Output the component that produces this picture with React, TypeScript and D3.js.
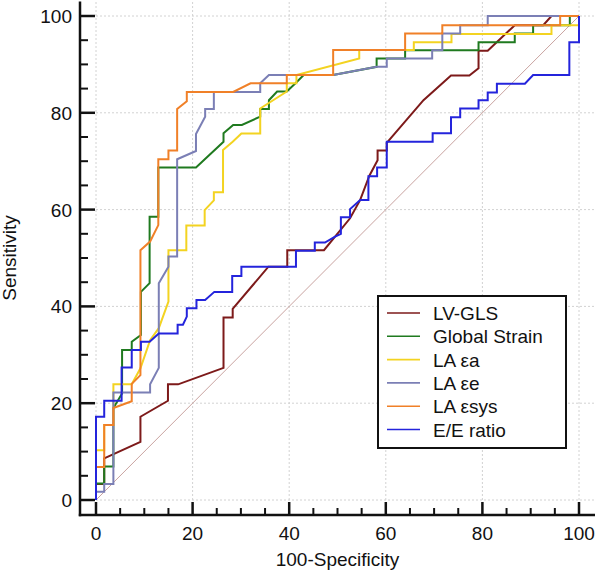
import React from "react";
import * as d3 from "d3";

// ---- Data ----
const seriesNames = ["LV-GLS", "Global Strain", "LA εa", "LA εe", "LA εsys", "E/E ratio"];

const lvGls: [number, number][] = [
  [0, 0], [0, 3.3], [1.7, 3.3], [1.7, 8.6], [9.2, 12.0], [9.2, 17.2], [14.9, 20.5], [14.9, 23.9],
  [17, 23.9], [26.4, 27.3], [26.4, 37.7], [28.3, 37.7], [28.3, 39.5], [35.7, 48.2], [39.6, 48.2],
  [39.6, 51.6], [47.2, 51.6], [52.6, 58.2], [54.7, 62], [56.6, 67], [58.3, 70.2], [58.3, 72.2],
  [60.2, 72.2], [60.2, 73.8], [67.8, 82.6], [73.5, 87.7], [77.3, 87.7], [79.2, 89.2], [79.2, 92.8],
  [81.1, 92.8], [86.7, 98.1], [92.6, 98.1], [94.3, 100], [100, 100],
];

const globalStrain: [number, number][] = [
  [0, 0], [0, 3.4], [1.7, 3.4], [1.7, 6.9], [3.6, 6.9], [3.6, 19], [5.4, 22], [5.4, 31], [7.4, 31],
  [7.4, 32.7], [9.3, 34.1], [9.3, 43], [11.1, 44.8], [11.1, 58.5], [12.9, 58.5], [12.9, 68.7],
  [20.7, 68.7], [26.4, 74], [26.4, 75.8], [28.4, 77.5], [30.2, 77.5], [34, 79.2], [34, 80.8],
  [35.8, 80.8], [35.8, 82.6], [37.5, 84.4], [39.5, 84.4], [41.3, 86.1], [43, 87.8], [49.1, 87.8],
  [58.1, 89.5], [58.1, 91.2], [64, 91.2], [64, 92.9], [79.2, 92.9], [79.2, 94.6], [86.7, 94.6],
  [86.7, 96.4], [90.5, 96.4], [90.5, 98.1], [98.1, 98.1], [98.1, 100], [100, 100],
];

const laEa: [number, number][] = [
  [0, 0], [0, 10.3], [1.7, 10.3], [1.7, 15.5], [3.6, 15.5], [3.6, 23.9], [7.4, 23.9], [9.2, 27.2],
  [11.2, 33], [13, 35.5], [15, 41], [15, 51.6], [18.7, 51.6], [18.7, 56.7], [22.5, 56.7],
  [22.5, 59.9], [24.4, 61.9], [24.4, 63.6], [26.3, 63.6], [26.3, 72.3], [28.3, 74], [30.1, 75.7],
  [34, 75.7], [34, 80.9], [39.5, 84.4], [39.5, 86.1], [41.5, 86.1], [41.5, 87.8], [54.5, 91.2],
  [54.5, 93], [65.8, 93], [65.8, 94.6], [73.6, 94.6], [73.6, 96.3], [94.3, 96.3], [94.3, 98.1],
  [100, 98.1], [100, 100],
];

const laEe: [number, number][] = [
  [0, 0], [0, 1.7], [1.7, 1.7], [1.7, 3.3], [3.6, 3.3], [3.6, 22.2], [11.2, 22.2], [11.2, 23.9],
  [13, 27.3], [13, 44.8], [15, 48.2], [15, 50.3], [16.8, 50.3], [16.8, 70.4], [20.7, 72.1],
  [20.7, 75.6], [22.6, 79.2], [22.6, 80.8], [24.4, 80.8], [24.4, 84.3], [34, 84.3], [34, 86.1],
  [35.8, 87.8], [49.1, 87.8], [58.1, 89.5], [60.2, 89.5], [60.2, 91.2], [69.6, 91.2], [69.6, 92.9],
  [71.7, 92.9], [71.7, 96.4], [75.4, 96.4], [75.4, 98.1], [81.1, 98.1], [81.1, 100], [100, 100],
];

const laEsys: [number, number][] = [
  [0, 0], [0, 6.8], [1.7, 6.8], [1.7, 15.5], [3.6, 15.5], [3.6, 19], [7.4, 20.4], [7.4, 24],
  [9.2, 25.8], [9.2, 51.6], [11.2, 53.4], [12.9, 56.8], [12.9, 70.4], [15, 70.4], [15, 72.2],
  [16.8, 72.2], [16.8, 80.8], [18.8, 82.4], [18.8, 84.3], [28.4, 84.3], [32, 86.1], [39.5, 86.1],
  [39.5, 87.8], [49.1, 87.8], [49.1, 93], [64, 93], [64, 96.4], [71.7, 96.4], [71.7, 98.1],
  [96.1, 98.1], [96.1, 100], [100, 100],
];

const eeRatio: [number, number][] = [
  [0, 0], [0, 17.2], [1.7, 17.2], [1.7, 20.5], [5.3, 20.5], [5.3, 27.4], [7.4, 27.4], [7.4, 31],
  [9.3, 31], [9.3, 32.7], [11.1, 32.7], [13, 34.4], [16.9, 34.4], [16.9, 36.2], [18, 36.2],
  [18.8, 37.9], [18.8, 39.6], [20.8, 39.6], [20.8, 41.3], [22.6, 41.3], [24.5, 43], [28.2, 43],
  [28.2, 46.3], [30.1, 46.3], [30.1, 48.2], [41.4, 48.2], [41.4, 51.5], [45.3, 51.5], [45.3, 53.2],
  [47.4, 53.2], [49.5, 54.4], [50.7, 55], [50.7, 58.4], [52.6, 58.4], [52.6, 60.1], [54.7, 62],
  [56.4, 62], [56.4, 66.9], [58.2, 66.9], [58.2, 68.7], [60.2, 68.7], [60.2, 74], [69.7, 74],
  [69.7, 75.8], [73.5, 75.8], [73.5, 79.1], [75.4, 79.1], [75.4, 80.9], [79.2, 80.9], [79.2, 82.6],
  [81.1, 82.6], [81.1, 84.2], [83, 84.2], [83, 86], [88.8, 86], [90.5, 87.8], [98, 87.8],
  [98, 94.6], [100, 94.6], [100, 100],
];

const majorTicks = [0, 20, 40, 60, 80, 100];
const minorTicks = d3.range(0, 101, 5).filter((v) => v % 20 !== 0);
const xTitle = "100-Specificity";
const yTitle = "Sensitivity";

// ---- Styles ----
const colors = ["#7d1a1a", "#1f7a1f", "#f3d321", "#7b7fb5", "#f08028", "#2424dc"];
const font = "'Liberation Sans', Arial, sans-serif";
const fs = 19;

export default function App() {
  const W = 597;
  const H = 574;
  const x = d3.scaleLinear().domain([0, 100]).range([96, 579]);
  const y = d3.scaleLinear().domain([0, 100]).range([500, 16]);
  const line = d3
    .line<[number, number]>()
    .x((d) => x(d[0]))
    .y((d) => y(d[1]));

  const series = [lvGls, globalStrain, laEa, laEe, laEsys, eeRatio];

  const axisX = 80;
  const axisY = 515;
  const gridLeft = 88;
  const gridRight = 594;
  const gridTop = 2;
  const gridBottom = 508;

  const legX = 378;
  const legY = 296;
  const legW = 188;
  const legH = 152;
  const rowH = 23.3;

  return (
    <svg
      width={W}
      height={H}
      style={{ position: "absolute", left: 0, top: 0, display: "block", background: "#fff" }}
      fontFamily={font}
    >
      <rect x={0} y={0} width={W} height={H} fill="#fff" />
      {/* grid */}
      <g stroke="#d2d2d2" strokeWidth={1} strokeDasharray="2,2">
        {majorTicks.map((v) => (
          <line key={"gx" + v} x1={x(v)} x2={x(v)} y1={gridTop} y2={gridBottom} />
        ))}
        {majorTicks.map((v) => (
          <line key={"gy" + v} x1={gridLeft} x2={gridRight} y1={y(v)} y2={y(v)} />
        ))}
      </g>
      {/* diagonal reference */}
      <line x1={x(0)} y1={y(0)} x2={x(100)} y2={y(100)} stroke="#c9a3a0" strokeWidth={1} />
      {/* curves */}
      {series.map((s, i) => (
        <path
          key={seriesNames[i]}
          d={line(s) || ""}
          fill="none"
          stroke={colors[i]}
          strokeWidth={2}
          strokeLinejoin="miter"
        />
      ))}
      {/* axes */}
      <g stroke="#111" strokeWidth={2.5}>
        <line x1={axisX} x2={axisX} y1={1.5} y2={axisY + 1.2} />
        <line x1={axisX - 1.2} x2={595} y1={axisY} y2={axisY} />
        {majorTicks.map((v) => (
          <line key={"ty" + v} x1={axisX} x2={axisX + 15} y1={y(v)} y2={y(v)} />
        ))}
        {minorTicks.map((v) => (
          <line key={"my" + v} x1={axisX} x2={axisX + 8} y1={y(v)} y2={y(v)} strokeWidth={2} />
        ))}
        {majorTicks.map((v) => (
          <line key={"tx" + v} x1={x(v)} x2={x(v)} y1={axisY} y2={axisY - 13} />
        ))}
        {minorTicks.map((v) => (
          <line key={"mx" + v} x1={x(v)} x2={x(v)} y1={axisY} y2={axisY - 7} strokeWidth={2} />
        ))}
      </g>
      {/* tick labels */}
      <g fontSize={fs} fill="#111">
        {majorTicks.map((v) => (
          <text key={"ly" + v} x={72} y={y(v) + 7} textAnchor="end">
            {v}
          </text>
        ))}
        {majorTicks.map((v) => (
          <text key={"lx" + v} x={x(v)} y={540} textAnchor="middle">
            {v}
          </text>
        ))}
      </g>
      {/* axis titles */}
      <text x={(x(0) + x(100)) / 2} y={566} textAnchor="middle" fontSize={fs} fill="#111">
        {xTitle}
      </text>
      <text
        transform={`translate(16, ${(y(0) + y(100)) / 2}) rotate(-90)`}
        textAnchor="middle"
        fontSize={fs}
        fill="#111"
      >
        {yTitle}
      </text>
      {/* legend */}
      <rect x={legX} y={legY} width={legW} height={legH} fill="#fff" stroke="#111" strokeWidth={2} />
      {seriesNames.map((name, i) => {
        const cy = legY + 17 + i * rowH;
        return (
          <g key={"leg" + name}>
            <line x1={legX + 9} x2={legX + 42} y1={cy} y2={cy} stroke={colors[i]} strokeWidth={1.6} />
            <text x={legX + 55} y={cy + 7} fontSize={fs} fill="#111">
              {name}
            </text>
          </g>
        );
      })}
    </svg>
  );
}
